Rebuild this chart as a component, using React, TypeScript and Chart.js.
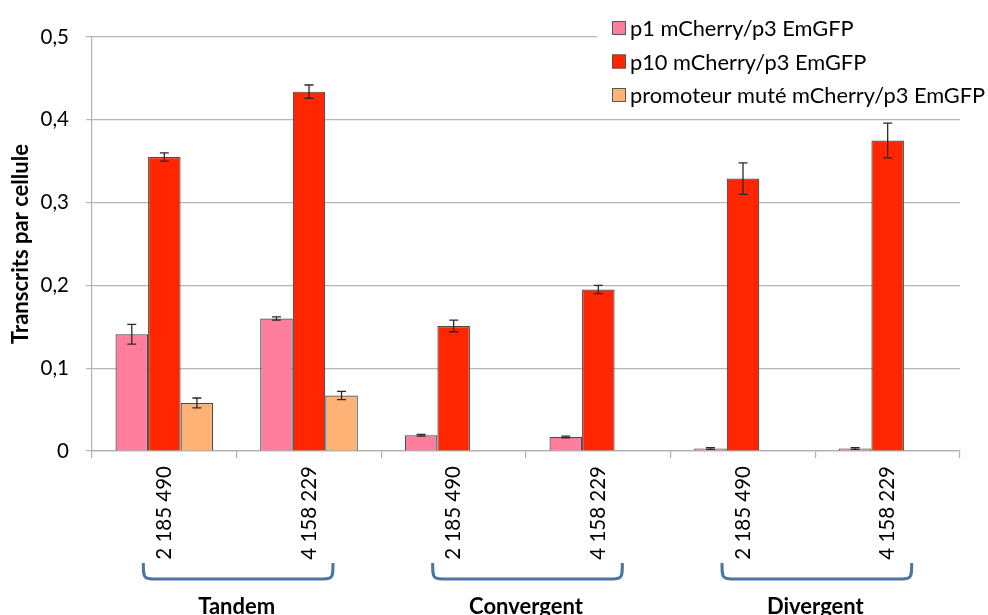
import { useEffect, useRef } from "react";
import { Chart, registerables } from "chart.js";

Chart.register(...registerables);

const categories = ["2 185 490", "4 158 229", "2 185 490", "4 158 229", "2 185 490", "4 158 229"];
const groupNames = ["Tandem", "Convergent", "Divergent"];
const groupSpans = [[0, 1], [2, 3], [4, 5]];
const seriesNames = ["p1 mCherry/p3 EmGFP", "p10 mCherry/p3 EmGFP", "promoteur muté mCherry/p3 EmGFP"];
const p1Values = [0.141, 0.16, 0.019, 0.017, 0.003, 0.003];
const p1Errors = [0.012, 0.002, 0.001, 0.001, 0.001, 0.001];
const p10Values = [0.355, 0.434, 0.151, 0.195, 0.329, 0.375];
const p10Errors = [0.005, 0.008, 0.007, 0.005, 0.019, 0.021];
const mutValues = [0.058, 0.067, null, null, null, null];
const mutErrors = [0.006, 0.005, null, null, null, null];
const yTickValues = [0, 0.1, 0.2, 0.3, 0.4, 0.5];
const yTitle = "Transcrits par cellule";

const colors = ["#ff7d9d", "#ff2600", "#ffb276"];
const FONT = "Lato";

const errorBarPlugin = {
  id: "errorBars",
  afterDatasetsDraw(chart: any) {
    const ctx = chart.ctx;
    const yScale = chart.scales.y;
    const errs = [p1Errors, p10Errors, mutErrors];
    ctx.save();
    ctx.strokeStyle = "#2a2a2a";
    ctx.lineWidth = 1.3;
    chart.data.datasets.forEach((ds: any, i: number) => {
      const meta = chart.getDatasetMeta(i);
      meta.data.forEach((el: any, j: number) => {
        const v = ds.data[j];
        const e = errs[i][j];
        if (v == null || e == null) return;
        const x = el.x;
        const yT = yScale.getPixelForValue(v + e);
        const yB = yScale.getPixelForValue(Math.max(0, v - e));
        ctx.beginPath();
        ctx.moveTo(x, yT);
        ctx.lineTo(x, yB);
        ctx.moveTo(x - 4.5, yT);
        ctx.lineTo(x + 4.5, yT);
        ctx.moveTo(x - 4.5, yB);
        ctx.lineTo(x + 4.5, yB);
        ctx.stroke();
      });
    });
    ctx.restore();
  },
};

const decorPlugin = {
  id: "decor",
  afterDraw(chart: any) {
    const ctx = chart.ctx;
    const xScale = chart.scales.x;
    const base = chart.chartArea.bottom;
    ctx.save();
    // braces and group labels
    groupSpans.forEach((span, g) => {
      const xa = xScale.getPixelForValue(span[0]) - 21;
      const xb = xScale.getPixelForValue(span[1]) + 24;
      const yTop = base + 112;
      const yBot = base + 128;
      ctx.beginPath();
      ctx.strokeStyle = "#4c74a0";
      ctx.lineWidth = 3;
      ctx.moveTo(xa, yTop);
      ctx.bezierCurveTo(xa, yBot, xa, yBot, xa + 15, yBot);
      ctx.lineTo(xb - 15, yBot);
      ctx.bezierCurveTo(xb, yBot, xb, yBot, xb, yTop);
      ctx.stroke();
      const cx = (xScale.getPixelForValue(span[0]) + xScale.getPixelForValue(span[1])) / 2;
      ctx.fillStyle = "#000";
      ctx.font = `bold 22px ${FONT}`;
      ctx.textAlign = "center";
      ctx.textBaseline = "alphabetic";
      ctx.fillText(groupNames[g], cx, base + 163);
    });
    // legend
    ctx.fillStyle = "#fff";
    ctx.fillRect(597, 6, 391, 108);
    seriesNames.forEach((name, i) => {
      const cy = 28 + i * 33.5;
      ctx.fillStyle = colors[i];
      ctx.fillRect(612, cy - 7, 14, 14);
      ctx.strokeStyle = "#555";
      ctx.lineWidth = 1;
      ctx.strokeRect(612.5, cy - 6.5, 13, 13);
      ctx.fillStyle = "#000";
      ctx.font = `21.8px ${FONT}`;
      ctx.textAlign = "left";
      ctx.textBaseline = "middle";
      ctx.fillText(name, 630, cy + 1);
    });
    ctx.restore();
  },
};

export default function App() {
  const ref = useRef<HTMLCanvasElement>(null);
  useEffect(() => {
    document.body.style.margin = "0";
    const canvas = ref.current!;
    const mkDs = (label: string, data: any[], i: number) => ({
      label,
      data,
      backgroundColor: colors[i],
      borderColor: "#4a4a4a",
      borderWidth: 1.2,
      categoryPercentage: 0.675,
      barPercentage: 1,
    });
    const chart = new Chart(canvas, {
      type: "bar",
      data: {
        labels: categories,
        datasets: [
          mkDs(seriesNames[0], p1Values, 0),
          mkDs(seriesNames[1], p10Values, 1),
          mkDs(seriesNames[2], mutValues, 2),
        ],
      },
      options: {
        animation: false,
        responsive: true,
        maintainAspectRatio: false,
        devicePixelRatio: 1,
        layout: { padding: { top: 37, right: 28, left: 0, bottom: 0 } },
        plugins: {
          legend: { display: false },
          tooltip: { enabled: false },
        },
        scales: {
          x: {
            grid: {
              offset: true,
              drawOnChartArea: false,
              drawTicks: true,
              tickLength: 7,
              color: "#b0b0b0",
              lineWidth: 1.2,
            },
            border: { color: "#b0b0b0", width: 1.2 },
            ticks: {
              autoSkip: false,
              minRotation: 90,
              maxRotation: 90,
              padding: 8,
              color: "#000",
              font: { family: FONT, size: 20.5 },
            },
            afterFit(scale: any) {
              scale.height = 164;
            },
          },
          y: {
            min: 0,
            max: 0.5,
            afterBuildTicks(scale: any) {
              scale.ticks = yTickValues.map((v) => ({ value: v }));
            },
            grid: {
              color: "#b5b5b5",
              lineWidth: 1.2,
              tickLength: 6,
            },
            border: { color: "#b0b0b0", width: 1.2 },
            ticks: {
              padding: 17,
              color: "#000",
              font: { family: FONT, size: 20.5 },
              callback: (v: any) => (v === 0 ? "0" : Number(v).toFixed(1).replace(".", ",")),
            },
            title: {
              display: true,
              text: yTitle,
              color: "#000",
              font: { family: FONT, size: 22, weight: "bold" },
              padding: { top: 8, bottom: 0 },
            },
            afterFit(scale: any) {
              scale.width = 92;
            },
          },
        },
      },
      plugins: [errorBarPlugin, decorPlugin],
    });
    return () => chart.destroy();
  }, []);
  return (
    <div style={{ position: "relative", width: 988, height: 615 }}>
      <canvas ref={ref} />
    </div>
  );
}
